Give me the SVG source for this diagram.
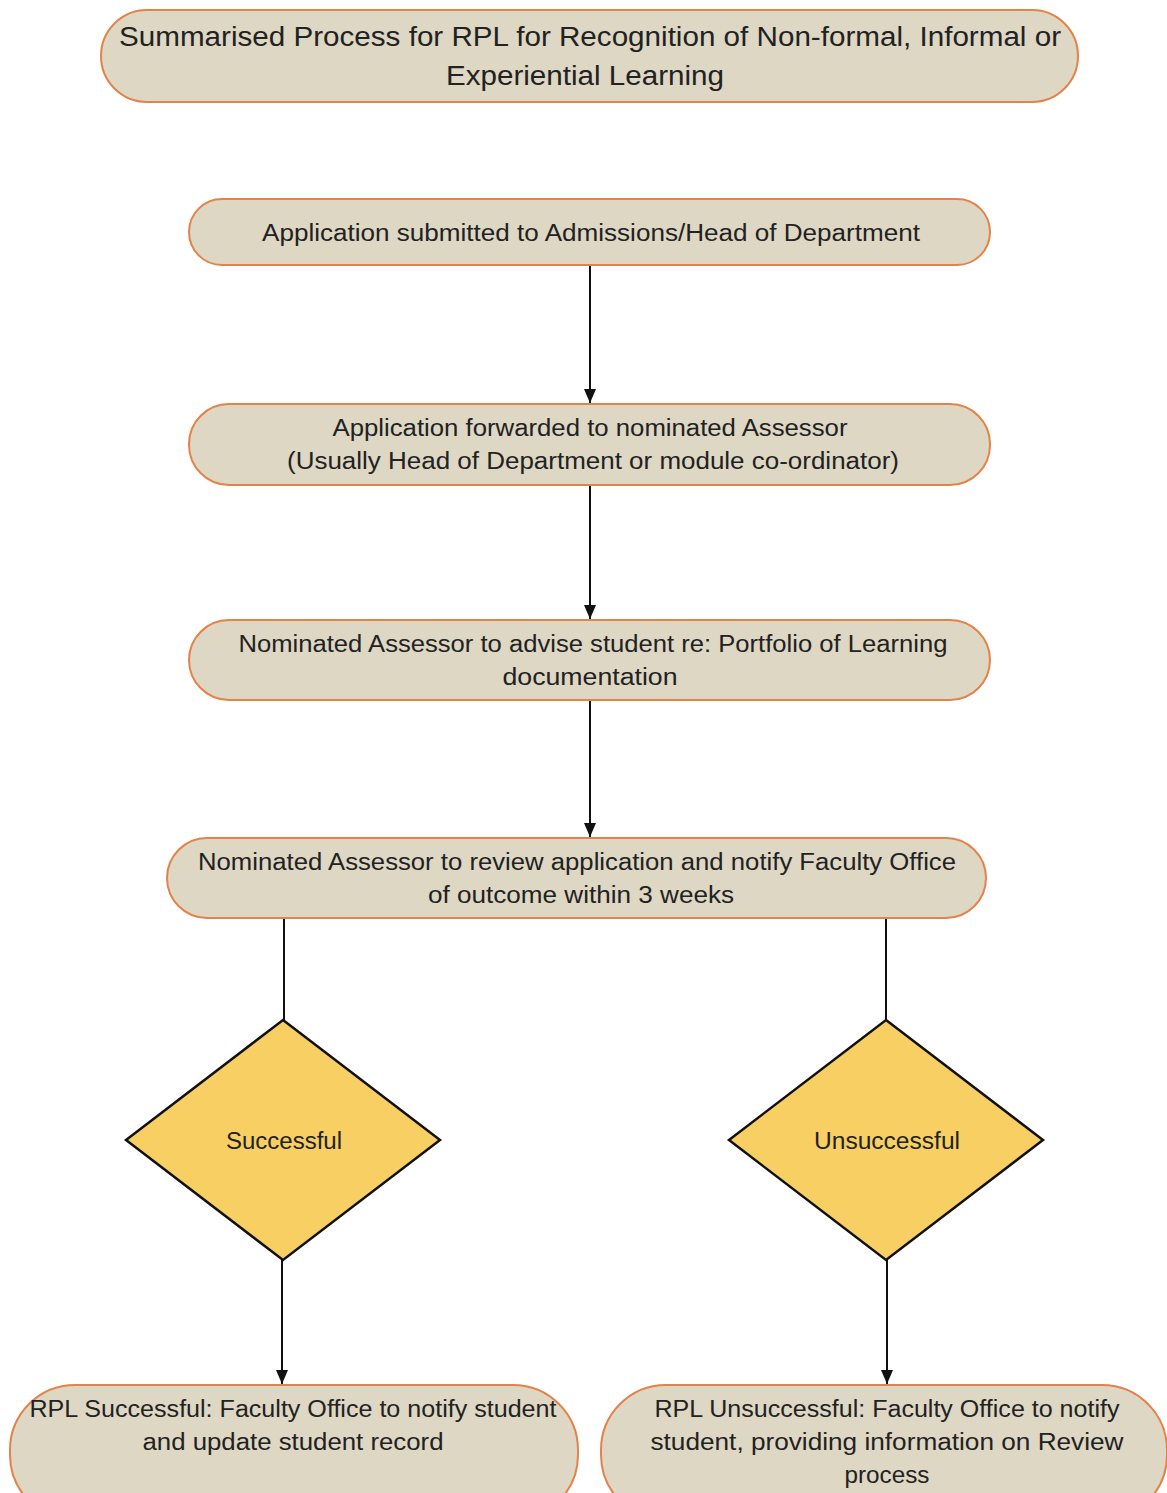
<svg xmlns="http://www.w3.org/2000/svg" width="1167" height="1493" viewBox="0 0 1167 1493">
<style>
.box{fill:#ddd7c3;stroke:#e3834a;stroke-width:2}
.dia{fill:#f8cf63;stroke:#111;stroke-width:2.5}
.t{font-family:"Liberation Sans",Arial,sans-serif;font-size:23px;fill:#222;text-anchor:middle}
.tt{font-family:"Liberation Sans",Arial,sans-serif;font-size:27px;fill:#222;text-anchor:middle}
.c{stroke:#111;stroke-width:2;fill:none}
</style>
<defs>
<marker id="ah" markerWidth="14" markerHeight="14" refX="14" refY="7" orient="auto" markerUnits="userSpaceOnUse" viewBox="0 0 14 14">
<path d="M0,1 L14,7 L0,13 z" fill="#111"/>
</marker>
</defs>
<rect width="1167" height="1493" fill="#fff"/>
<g id="connectors">
<line class="c" x1="590" y1="265" x2="590" y2="403" marker-end="url(#ah)"/>
<line class="c" x1="590" y1="485" x2="590" y2="619" marker-end="url(#ah)"/>
<line class="c" x1="590" y1="700" x2="590" y2="837" marker-end="url(#ah)"/>
<line class="c" x1="284" y1="918" x2="284" y2="1020"/>
<line class="c" x1="886" y1="918" x2="886" y2="1020"/>
<line class="c" x1="282" y1="1260" x2="282" y2="1384" marker-end="url(#ah)"/>
<line class="c" x1="887" y1="1260" x2="887" y2="1384" marker-end="url(#ah)"/>
</g>
<g id="title">
<rect class="box" x="101" y="10" width="977" height="92" rx="46"/>
<text class="tt" x="590" y="46" textLength="942" lengthAdjust="spacingAndGlyphs">Summarised Process for RPL for Recognition of Non-formal, Informal or</text>
<text class="tt" x="585" y="85" textLength="278" lengthAdjust="spacingAndGlyphs">Experiential Learning</text>
</g>
<g id="n1">
<rect class="box" x="189" y="199" width="801" height="66" rx="33"/>
<text class="t" x="591" y="241" textLength="658" lengthAdjust="spacingAndGlyphs">Application submitted to Admissions/Head of Department</text>
</g>
<g id="n2">
<rect class="box" x="189" y="404" width="801" height="81" rx="40"/>
<text class="t" x="590" y="436" textLength="515" lengthAdjust="spacingAndGlyphs">Application forwarded to nominated Assessor</text>
<text class="t" x="593" y="469" textLength="612" lengthAdjust="spacingAndGlyphs">(Usually Head of Department or module co-ordinator)</text>
</g>
<g id="n3">
<rect class="box" x="189" y="620" width="801" height="80" rx="40"/>
<text class="t" x="593" y="652" textLength="709" lengthAdjust="spacingAndGlyphs">Nominated Assessor to advise student re: Portfolio of Learning</text>
<text class="t" x="590" y="685" textLength="175" lengthAdjust="spacingAndGlyphs">documentation</text>
</g>
<g id="n4">
<rect class="box" x="167" y="838" width="819" height="80" rx="40"/>
<text class="t" x="577" y="870" textLength="758" lengthAdjust="spacingAndGlyphs">Nominated Assessor to review application and notify Faculty Office</text>
<text class="t" x="581" y="903" textLength="306" lengthAdjust="spacingAndGlyphs">of outcome within 3 weeks</text>
</g>
<g id="d1">
<polygon class="dia" points="283,1020 440,1140 283,1260 126,1140"/>
<text class="t" x="284" y="1149" textLength="116" lengthAdjust="spacingAndGlyphs">Successful</text>
</g>
<g id="d2">
<polygon class="dia" points="886,1020 1043,1140 886,1260 729,1140"/>
<text class="t" x="887" y="1149" textLength="146" lengthAdjust="spacingAndGlyphs">Unsuccessful</text>
</g>
<g id="n5">
<rect class="box" x="10" y="1385" width="568" height="135" rx="65"/>
<text class="t" x="293" y="1417" textLength="527" lengthAdjust="spacingAndGlyphs">RPL Successful: Faculty Office to notify student</text>
<text class="t" x="293" y="1450" textLength="301" lengthAdjust="spacingAndGlyphs">and update student record</text>
</g>
<g id="n6">
<rect class="box" x="601" y="1385" width="566" height="135" rx="65"/>
<text class="t" x="887" y="1417" textLength="465" lengthAdjust="spacingAndGlyphs">RPL Unsuccessful: Faculty Office to notify</text>
<text class="t" x="887" y="1450" textLength="473" lengthAdjust="spacingAndGlyphs">student, providing information on Review</text>
<text class="t" x="887" y="1483" textLength="85" lengthAdjust="spacingAndGlyphs">process</text>
</g>
</svg>
